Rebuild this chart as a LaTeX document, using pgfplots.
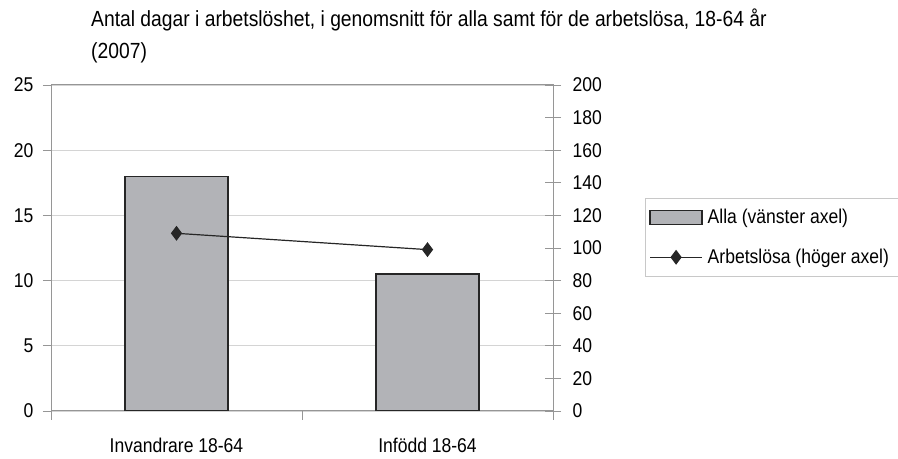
\documentclass[border=0pt]{standalone}
\usepackage{pgfplots}
\pgfplotsset{compat=1.18}
\usepackage{fontspec}
\setmainfont{Liberation Sans}[FakeStretch=0.88]
\definecolor{barfill}{RGB}{178,179,183}
\definecolor{dark}{RGB}{38,38,38}
\definecolor{framec}{RGB}{150,150,150}
\definecolor{gridc}{RGB}{212,212,212}
\pgfplotsset{
  lineleg/.style={legend image code/.code={\draw[mark repeat=2, mark phase=2, ##1] plot coordinates {(0bp,0bp) (26bp,0bp) (52bp,0bp)};}},
  barleg/.style={legend image code/.code={\draw[fill=barfill, draw=dark, line width=1.3bp] (0bp,-7bp) rectangle (52bp,7bp);}},
}
\begin{document}
\begin{tikzpicture}[x=1bp,y=1bp]
\useasboundingbox (0,0) rectangle (898,459);
\node[anchor=base west, inner sep=0pt, font=\fontsize{22}{26}\selectfont] at (91,432) {Antal dagar i arbetslöshet, i genomsnitt för alla samt för de arbetslösa, 18-64 år};
\node[anchor=base west, inner sep=0pt, font=\fontsize{22}{26}\selectfont] at (91,400) {(2007)};
\begin{axis}[
  at={(51bp,48bp)}, anchor=south west,
  scale only axis, width=502bp, height=326bp,
  xmin=-0.5, xmax=1.5, ymin=0, ymax=25,
  ytick={0,5,...,25},
  xtick={0,1}, xticklabels={Invandrare 18-64, Infödd 18-64},
  minor xtick={-0.5,0.5,1.5},
  xtick pos=bottom, ytick pos=left,
  tick align=outside,
  major tick length=8bp,
  minor tick length=9bp,
  x tick style={draw=none},
  minor x tick style={draw=framec, line width=0.6bp},
  y tick style={draw=framec, line width=0.6bp},
  ymajorgrids, grid style={gridc, line width=0.8bp},
  minor grid style={draw=none},
  axis line style={framec, line width=1bp},
  /pgf/number format/assume math mode=true,
  tick label style={font=\fontsize{20}{24}\selectfont},
  xticklabel style={yshift=-16bp},
  yticklabel style={xshift=-6bp},
  ybar, bar width=103bp,
]
\addplot[fill=barfill, draw=dark, line width=1.3bp] coordinates {(0,18.0) (1,10.5)};
\end{axis}
\begin{axis}[
  at={(51bp,48bp)}, anchor=south west,
  scale only axis, width=502bp, height=326bp,
  xmin=-0.5, xmax=1.5, ymin=0, ymax=200,
  axis y line*=right, axis x line=none,
  ytick={0,20,...,200},
  tick align=center,
  major tick length=16bp,
  y tick style={draw=framec, line width=0.6bp},
  axis line style={framec, line width=1bp},
  /pgf/number format/assume math mode=true,
  tick label style={font=\fontsize{20}{24}\selectfont},
  yticklabel style={xshift=8bp},
  legend style={at={(1.1833,0.6534)}, anchor=north west, draw={rgb,255:red,200;green,200;blue,200}, line width=0.8bp, font=\fontsize{20}{25}\selectfont, row sep=20bp, inner xsep=4bp, inner ysep=9bp, nodes={inner xsep=5bp}},
  legend cell align=left,
]
\addlegendimage{barleg}
\addlegendentry{Alla (vänster axel)}
\addplot[dark, line width=1.2bp, mark=diamond*, mark size=6.5bp, mark options={fill=dark, solid}, lineleg]
  coordinates {(0,109) (1,99)};
\addlegendentry{Arbetslösa (höger axel)}
\end{axis}
\end{tikzpicture}
\end{document}
